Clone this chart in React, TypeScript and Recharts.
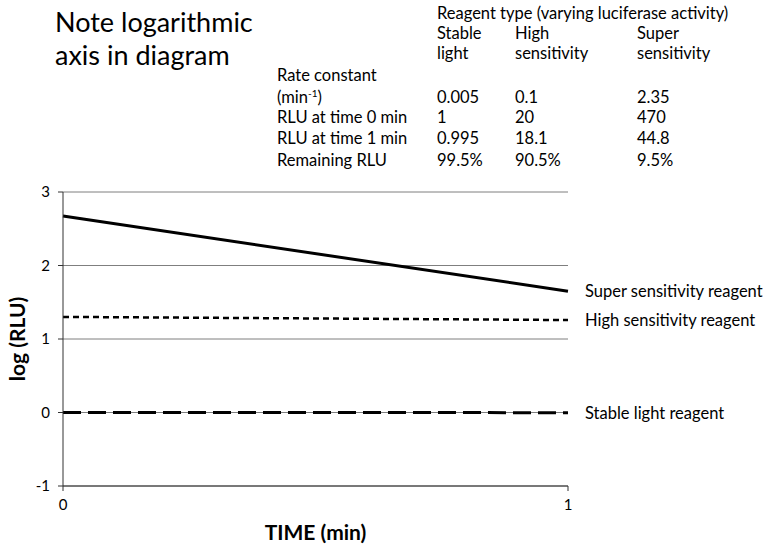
import { CartesianGrid, Label, Line, LineChart, XAxis, YAxis } from "recharts";

// time points (min) and log10(RLU) for each reagent
const TIME = [0, 1];
const SUPER_LOG = [2.672, 1.651];
const HIGH_LOG = [1.301, 1.258];
const STABLE_LOG = [0, -0.002];

const Y_TICKS = [-1, 0, 1, 2, 3];
const X_TICKS = [0, 1];

const SERIES_NAMES = ["Super sensitivity reagent", "High sensitivity reagent", "Stable light reagent"];

// table above the chart
const REAGENT_HEAD = [
  ["Stable", "light"],
  ["High", "sensitivity"],
  ["Super", "sensitivity"],
];
const RATE_CONSTANT = ["0.005", "0.1", "2.35"];
const RLU_T0 = ["1", "20", "470"];
const RLU_T1 = ["0.995", "18.1", "44.8"];
const REMAINING = ["99.5%", "90.5%", "9.5%"];

const FONT = "Lato, 'Open Sans', sans-serif";
const TEXT = "#000";
const LABEL_X = 277;
const COL_X = [437, 515, 637];

const data = TIME.map((t, i) => ({
  t,
  superS: SUPER_LOG[i],
  high: HIGH_LOG[i],
  stable: STABLE_LOG[i],
}));

function endLabel(name: string) {
  return (p: any) => {
    if (p.index !== TIME.length - 1) return <g key={`e${p.index}`} />;
    return (
      <text
        key={`e${p.index}`}
        x={p.x + 17}
        y={p.y}
        dominantBaseline="central"
        fontSize={16.5}
        fontFamily={FONT}
        fill={TEXT}
      >
        {name}
      </text>
    );
  };
}

function Cell({ x, y, children }: { x: number; y: number; children: React.ReactNode }) {
  return (
    <div style={{ position: "absolute", left: x, top: y - 10, height: 20, lineHeight: "20px", fontSize: 16.5, whiteSpace: "nowrap" }}>
      {children}
    </div>
  );
}

export default function App() {
  const rows: [React.ReactNode, string[], number][] = [
    [
      <>
        (min<span style={{ fontSize: 10, position: "relative", top: -6, lineHeight: 0 }}>-1</span>)
      </>,
      RATE_CONSTANT,
      97,
    ],
    ["RLU at time 0 min", RLU_T0, 117],
    ["RLU at time 1 min", RLU_T1, 138],
    ["Remaining RLU", REMAINING, 160],
  ];
  return (
    <div style={{ position: "absolute", left: 0, top: 0, width: 768, height: 550, background: "#fff", fontFamily: FONT, color: TEXT }}>
      <div style={{ position: "absolute", left: 55, top: 5, fontSize: 27, lineHeight: "33px" }}>
        Note logarithmic
        <br />
        axis in diagram
      </div>

      <Cell x={COL_X[0]} y={13}>Reagent type (varying luciferase activity)</Cell>
      {REAGENT_HEAD.map((h, i) => (
        <div key={i}>
          <Cell x={COL_X[i]} y={33}>{h[0]}</Cell>
          <Cell x={COL_X[i]} y={53}>{h[1]}</Cell>
        </div>
      ))}
      <Cell x={LABEL_X} y={75}>Rate constant</Cell>
      {rows.map(([label, vals, y], r) => (
        <div key={r}>
          <Cell x={LABEL_X} y={y}>{label}</Cell>
          {vals.map((v, i) => (
            <Cell key={i} x={COL_X[i]} y={y}>{v}</Cell>
          ))}
        </div>
      ))}

      <div style={{ position: "absolute", left: 0, top: 0 }}>
        <LineChart width={768} height={550} data={data} margin={{ top: 192, right: 200, bottom: 34, left: 13 }}>
          <CartesianGrid vertical={false} stroke="#7f7f7f" strokeWidth={1} />
          <XAxis
            dataKey="t"
            type="number"
            domain={[0, 1]}
            ticks={X_TICKS}
            height={30}
            tickSize={5}
            tickMargin={8}
            stroke="#333"
            tick={{ fill: TEXT, fontSize: 15, fontFamily: FONT }}
          >
            <Label
              content={({ viewBox }: any) => (
                <text
                  x={viewBox.x + viewBox.width / 2}
                  y={viewBox.y + 45}
                  textAnchor="middle"
                  dominantBaseline="central"
                  fontSize={21}
                  fontWeight="bold"
                  fontFamily={FONT}
                  fill={TEXT}
                >
                  TIME (min)
                </text>
              )}
            />
          </XAxis>
          <YAxis
            type="number"
            domain={[-1, 3]}
            ticks={Y_TICKS}
            width={50}
            tickSize={5}
            tickMargin={8}
            stroke="#333"
            tick={{ fill: TEXT, fontSize: 15, fontFamily: FONT }}
          >
            <Label
              content={({ viewBox }: any) => {
                const cx = viewBox.x + 3;
                const cy = viewBox.y + viewBox.height / 2;
                return (
                  <text
                    x={cx}
                    y={cy}
                    transform={`rotate(-90 ${cx} ${cy})`}
                    textAnchor="middle"
                    dominantBaseline="central"
                    fontSize={21}
                    fontWeight="bold"
                    fontFamily={FONT}
                    fill={TEXT}
                  >
                    log (RLU)
                  </text>
                );
              }}
            />
          </YAxis>
          <Line
            dataKey="stable"
            type="linear"
            stroke="#000"
            strokeWidth={3}
            strokeDasharray="18 7"
            dot={false}
            isAnimationActive={false}
            label={endLabel(SERIES_NAMES[2])}
          />
          <Line
            dataKey="high"
            type="linear"
            stroke="#000"
            strokeWidth={2.5}
            strokeDasharray="6 4"
            dot={false}
            isAnimationActive={false}
            label={endLabel(SERIES_NAMES[1])}
          />
          <Line
            dataKey="superS"
            type="linear"
            stroke="#000"
            strokeWidth={3}
            dot={false}
            isAnimationActive={false}
            label={endLabel(SERIES_NAMES[0])}
          />
        </LineChart>
      </div>
    </div>
  );
}
